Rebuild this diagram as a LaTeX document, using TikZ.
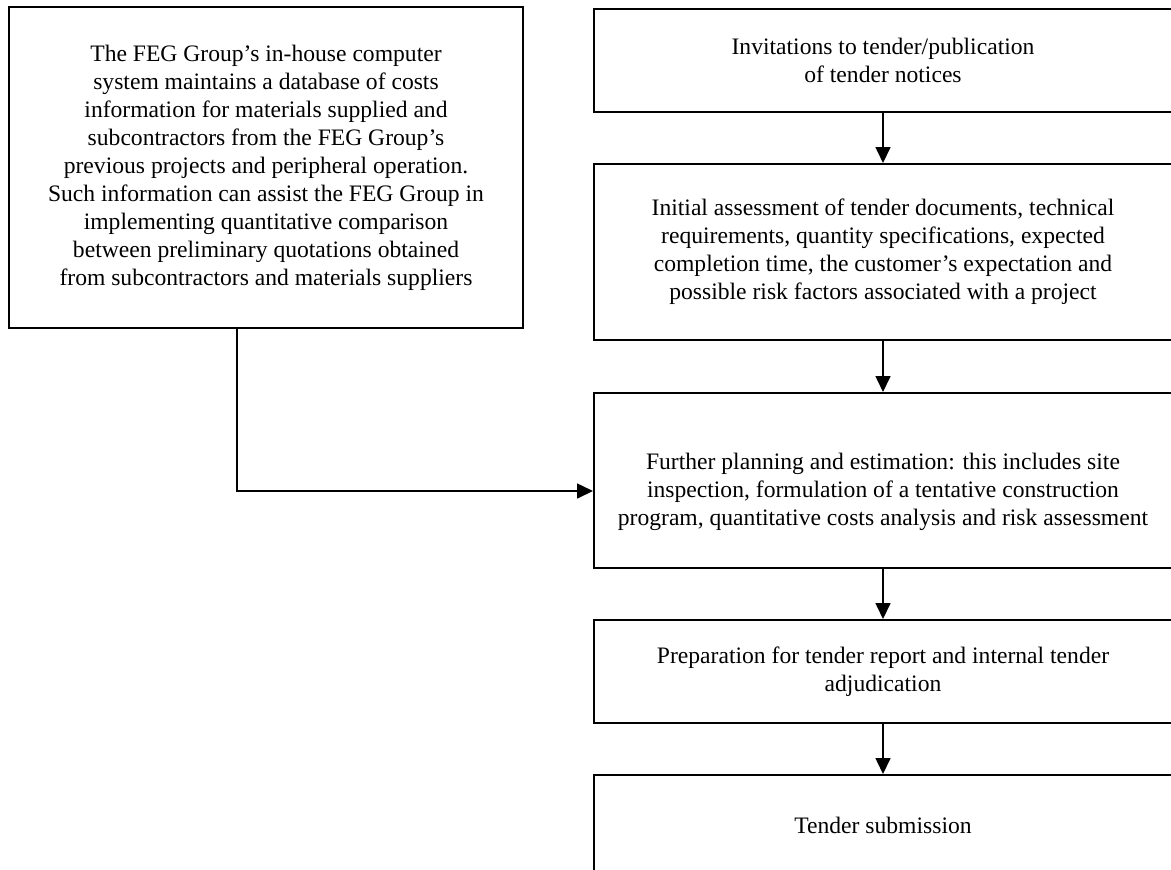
\documentclass[tikz,border=0pt]{standalone}
\usepackage{fontspec}
\setmainfont{Liberation Serif}
\usetikzlibrary{arrows.meta}

\begin{document}
\begin{tikzpicture}[x=0.5pt,y=-0.5pt,
  stagebox/.style={draw,line width=1pt,minimum width=289pt,inner sep=0pt,
    align=center,font=\fontsize{11.8}{14}\selectfont},
  flow/.style={line width=0.8pt,-{Triangle[length=8pt,width=7.5pt]}}]
\useasboundingbox (0,0) rectangle (1171,869);
\clip (0,0) rectangle (1171,869);
% left: cost database
\node[stagebox,minimum width=257pt,minimum height=160.5pt] (info) at (266,167.5)
  {The FEG Group’s in-house computer\\system maintains a database of costs\\
   information for materials supplied and\\subcontractors from the FEG Group’s\\
   previous projects and peripheral operation.\\Such information can assist the FEG Group in\\
   implementing quantitative comparison\\between preliminary quotations obtained\\
   from subcontractors and materials suppliers};
% right: tender stages
\node[stagebox,minimum height=51.5pt] (invite) at (883,60.5)
  {Invitations to tender/publication\\of tender notices};
\node[stagebox,minimum height=88pt] (assess) at (883,252)
  {Initial assessment of tender documents, technical\\requirements, quantity specifications, expected\\
   completion time, the customer’s expectation and\\possible risk factors associated with a project};
\node[stagebox,minimum height=87.5pt] (further) at (883,480.5)
  {\rule{0pt}{19.5pt}Further planning and estimation: this includes site\\inspection, formulation of a tentative construction\\
   program, quantitative costs analysis and risk assessment};
\node[stagebox,minimum height=51.5pt] (report) at (883,671.5)
  {Preparation for tender report and internal tender\\adjudication};
\node[stagebox,minimum height=50pt] (submit) at (883,825)
  {Tender submission};
\draw[flow](invite)--(assess);
\draw[flow](assess)--(further);
\draw[flow](further)--(report);
\draw[flow](report)--(submit);
\coordinate (bend) at (237,491);
\draw[flow](bend |- info.south)--(bend)--(bend -| further.west);
\end{tikzpicture}
\end{document}
